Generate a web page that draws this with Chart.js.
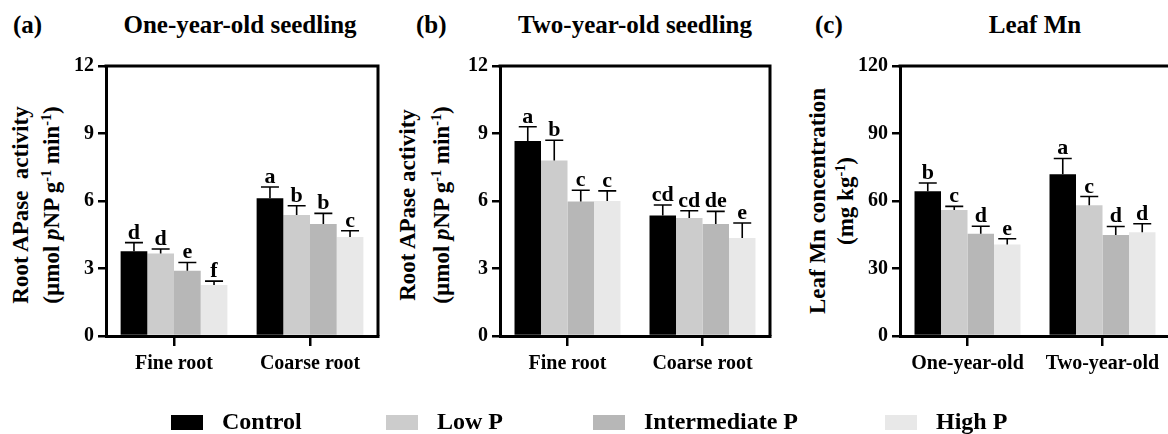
<!DOCTYPE html>
<html>
<head>
<meta charset="utf-8">
<script src="https://cdn.jsdelivr.net/npm/chart.js@4.4.1/dist/chart.umd.min.js"></script>
<style>
  html, body { margin:0; padding:0; background:#fff; }
  body { width:1168px; height:434px; position:relative; overflow:hidden; font-family:"Liberation Serif","Times New Roman",serif; font-weight:bold; color:#000; }
  canvas { position:absolute; top:0; }
  .t { position:absolute; font-size:25px; line-height:25px; white-space:nowrap; }
  .yt { position:absolute; width:320px; text-align:center; font-size:23px; white-space:pre; transform:rotate(-90deg); transform-origin:50% 50%; }
  .yt sup { font-size:0.62em; line-height:0; vertical-align:0.55em; }
  .lg { position:absolute; top:415px; width:32px; height:15px; }
  .lt { position:absolute; top:409px; font-size:24px; line-height:24px; white-space:nowrap; }
</style>
</head>
<body>
<div class="t" style="left:13px;top:12px;">(a)</div>
<div class="t" style="left:240px;top:12px;transform:translateX(-50%);">One-year-old seedling</div>
<div class="t" style="left:416px;top:12px;">(b)</div>
<div class="t" style="left:635px;top:12px;transform:translateX(-50%);">Two-year-old seedling</div>
<div class="t" style="left:815px;top:12px;">(c)</div>
<div class="t" style="left:1035px;top:12px;transform:translateX(-50%);">Leaf Mn</div>

<div class="yt" style="left:-124.5px;top:174px;line-height:31px;">Root APase  activity
(µmol <i>p</i>NP g<sup>-1</sup> min<sup>-1</sup>)</div>
<div class="yt" style="left:265px;top:171px;line-height:34px;">Root APase activity
(µmol <i>p</i>NP g<sup>-1</sup> min<sup>-1</sup>)</div>
<div class="yt" style="left:672px;top:173px;line-height:28px;">Leaf Mn concentration
(mg kg<sup>-1</sup>)</div>

<canvas id="ca" width="392" height="434" style="left:0px;"></canvas>
<canvas id="cb" width="388" height="434" style="left:392px;"></canvas>
<canvas id="cc" width="400" height="434" style="left:780px;"></canvas>

<div id="legend"></div>

<script>
// ---- data ----
const seriesNames = ['Control', 'Low P', 'Intermediate P', 'High P'];
const seriesColors = ['#000000', '#cccccc', '#b7b7b7', '#e8e8e8'];

const catsA = ['Fine root', 'Coarse root'];
const aControl = [3.77, 6.12];  const aControlErr = [0.38, 0.50];
const aLow = [3.67, 5.38];      const aLowErr = [0.20, 0.41];
const aInter = [2.90, 4.98];    const aInterErr = [0.37, 0.47];
const aHigh = [2.27, 4.40];     const aHighErr = [0.17, 0.28];
const aLetters = [['d', 'a'], ['d', 'b'], ['e', 'b'], ['f', 'c']];

const catsB = ['Fine root', 'Coarse root'];
const bControl = [8.67, 5.36];  const bControlErr = [0.63, 0.46];
const bLow = [7.80, 5.24];      const bLowErr = [0.90, 0.33];
const bInter = [5.98, 4.98];    const bInterErr = [0.50, 0.56];
const bHigh = [6.00, 4.36];     const bHighErr = [0.45, 0.66];
const bLetters = [['a', 'cd'], ['b', 'cd'], ['c', 'de'], ['c', 'e']];

const catsC = ['One-year-old', 'Two-year-old'];
const cControl = [64.3, 71.9];  const cControlErr = [3.7, 7.0];
const cLow = [56.0, 58.1];      const cLowErr = [1.6, 3.9];
const cInter = [45.5, 44.9];    const cInterErr = [3.3, 3.8];
const cHigh = [40.7, 46.1];     const cHighErr = [2.5, 3.8];
const cLetters = [['b', 'a'], ['c', 'c'], ['d', 'd'], ['e', 'd']];

const ticksAB = [0, 3, 6, 9, 12];
const ticksC = [0, 30, 60, 90, 120];

// ---- legend (HTML) ----
const legendX = [171, 386, 593, 885];
const lg = document.getElementById('legend');
seriesNames.forEach((n, i) => {
  const s = document.createElement('div');
  s.className = 'lg'; s.style.left = legendX[i] + 'px'; s.style.background = seriesColors[i];
  lg.appendChild(s);
  const t = document.createElement('div');
  t.className = 'lt'; t.style.left = (legendX[i] + 51) + 'px'; t.textContent = n;
  lg.appendChild(t);
});

// ---- plugin: error bars, letters, frame ----
const extras = {
  id: 'extras',
  afterDatasetsDraw(chart) {
    const ctx = chart.ctx;
    const ys = chart.scales.y;
    chart.data.datasets.forEach((ds, i) => {
      const meta = chart.getDatasetMeta(i);
      meta.data.forEach((bar, j) => {
        const top = ys.getPixelForValue(ds.data[j] + ds.errors[j]);
        ctx.save();
        ctx.strokeStyle = '#000';
        ctx.lineWidth = 1.6;
        ctx.beginPath();
        ctx.moveTo(bar.x, bar.y);
        ctx.lineTo(bar.x, top);
        ctx.moveTo(bar.x - 9, top);
        ctx.lineTo(bar.x + 9, top);
        ctx.stroke();
        ctx.fillStyle = '#000';
        ctx.font = 'bold 22px "Liberation Serif", serif';
        ctx.textAlign = 'center';
        ctx.textBaseline = 'alphabetic';
        ctx.fillText(ds.letters[j], bar.x, top - 4);
        ctx.restore();
      });
    });
  },
  afterDraw(chart) {
    const a = chart.chartArea, ctx = chart.ctx;
    ctx.save();
    ctx.strokeStyle = '#000';
    ctx.lineWidth = 3;
    ctx.beginPath();
    ctx.moveTo(a.left - 1.5, a.top);
    ctx.lineTo(a.right, a.top);
    ctx.lineTo(a.right, a.bottom);
    ctx.stroke();
    ctx.restore();
  }
};

function makeChart(id, cats, vals, errs, letters, tickVals, yWidth, padRight) {
  const datasets = seriesNames.map((n, i) => ({
    label: n,
    data: vals[i],
    errors: errs[i],
    letters: letters[i],
    backgroundColor: seriesColors[i],
    borderWidth: 0,
    barPercentage: 1.0,
    categoryPercentage: 0.785
  }));
  const font = { family: '"Liberation Serif", serif', size: 20, weight: 'bold' };
  return new Chart(document.getElementById(id), {
    type: 'bar',
    data: { labels: cats, datasets },
    options: {
      responsive: false,
      animation: false,
      layout: { padding: { top: 66, right: padRight, left: 0, bottom: 0 } },
      plugins: { legend: { display: false }, tooltip: { enabled: false }, title: { display: false } },
      scales: {
        x: {
          z: 1,
          offset: true,
          grid: { display: true, drawOnChartArea: false, drawTicks: true, tickLength: 10, offset: false, color: '#000', lineWidth: 2.5 },
          border: { display: true, color: '#000', width: 3 },
          ticks: { color: '#000', font, padding: 6 },
          afterFit(s) { s.height = 98; }
        },
        y: {
          z: 1,
          min: tickVals[0],
          max: tickVals[tickVals.length - 1],
          afterBuildTicks(s) { s.ticks = tickVals.map(v => ({ value: v })); },
          grid: { display: true, drawOnChartArea: false, drawTicks: true, tickLength: 8, color: '#000', lineWidth: 2.5 },
          border: { display: true, color: '#000', width: 3 },
          ticks: { color: '#000', font, padding: 4 },
          afterFit(s) { s.width = yWidth; }
        }
      }
    },
    plugins: [extras]
  });
}

makeChart('ca', catsA, [aControl, aLow, aInter, aHigh], [aControlErr, aLowErr, aInterErr, aHighErr], aLetters, ticksAB, 106, 14);
makeChart('cb', catsB, [bControl, bLow, bInter, bHigh], [bControlErr, bLowErr, bInterErr, bHighErr], bLetters, ticksAB, 108, 10);
makeChart('cc', catsC, [cControl, cLow, cInter, cHigh], [cControlErr, cLowErr, cInterErr, cHighErr], cLetters, ticksC, 120, 10);
</script>
</body>
</html>
